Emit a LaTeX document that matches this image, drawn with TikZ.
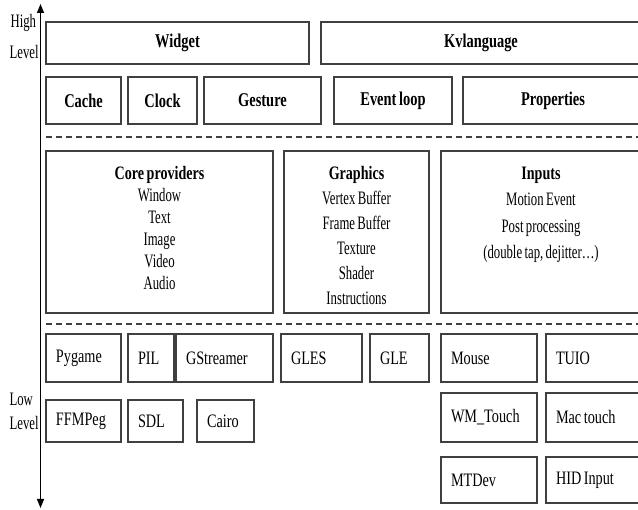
\documentclass[tikz,border=0pt]{standalone}
\usepackage{fontspec}
\setmainfont{Liberation Serif}[FakeStretch=0.67,WordSpace=0.75,BoldFeatures={FakeStretch=0.74}]
\newfontfamily\fontbas{Liberation Serif}[FakeStretch=0.75,WordSpace=0.7]
\usetikzlibrary{arrows.meta}

\begin{document}
\begin{tikzpicture}[x=1pt, y=-1pt, line width=1.2pt,
    font=\fontsize{19}{22}\selectfont,
    boite/.style={draw=black!75, rectangle, inner sep=0pt},
    haut/.style={boite, font=\fontsize{19.5}{22}\selectfont\bfseries},
    bas/.style={boite, text width=#1, align=flush left, inner xsep=10pt,
        font=\fontbas\fontsize{19}{22}\selectfont},
    liste/.style={align=center, anchor=north, inner sep=0pt},
    niveau/.style={inner sep=0pt, anchor=west},
    tirets/.style={line width=1.8pt, black!75, dash pattern=on 6pt off 4pt},
    fleche/.style={line width=1.2pt, {Triangle[width=7pt,length=9pt]}-{Triangle[width=7pt,length=9pt]}}]
    \useasboundingbox (0,0) rectangle (638,510);
    \clip (0,0) rectangle (638,510);

    % Axe des niveaux
    \coordinate (axeh) at (40.5,4);
    \coordinate (axeb) at (40.5,508);
    \draw[fleche] (axeh) -- (axeb);
    \node[niveau] (high) at (10,23) {High};
    \node[niveau] (level1) at (9,52) {Level};
    \node[niveau] (low) at (9,399) {Low};
    \node[niveau] (level2) at (9,423) {Level};

    % Couche haute
    \node[haut, minimum width=263, minimum height=42] (widget) at (177.5,43) {Widget};
    \node[haut, minimum width=320, minimum height=42] (kvlang) at (481,43) {Kvlanguage};
    \node[haut, minimum width=75, minimum height=47] (cache) at (83.5,100.5) {Cache};
    \node[haut, minimum width=69, minimum height=47] (clock) at (162.5,100.5) {Clock};
    \node[haut, minimum width=117, minimum height=47] (gesture) at (262.5,100.5) {Gesture};
    \node[haut, minimum width=118, minimum height=47] (evloop) at (393,100.5) {Event loop};
    \node[haut, minimum width=180, minimum height=47] (props) at (553,100.5) {Properties};

    % Séparations
    \coordinate (sep1g) at (46,137);
    \coordinate (sep1d) at (640,137);
    \coordinate (sep2g) at (46,324);
    \coordinate (sep2d) at (640,324);
    \draw[tirets] (sep1g) -- (sep1d);
    \draw[tirets] (sep2g) -- (sep2d);

    % Couche du milieu
    \node[boite, minimum width=227, minimum height=162] (core) at (159.5,232) {};
    \node[boite, minimum width=145, minimum height=162] (graphics) at (356.5,232) {};
    \node[boite, minimum width=200, minimum height=162] (inputs) at (541,232) {};
    \node[liste] (corelist) at (159.5,166) {\textbf{Core providers}\\Window\\Text\\Image\\Video\\Audio};
    \node[liste, font=\fontsize{19}{25}\selectfont] (graphlist) at (356.5,166) {\textbf{Graphics}\\Vertex Buffer\\Frame Buffer\\Texture\\Shader\\Instructions};
    \node[liste, font=\fontsize{19}{26.5}\selectfont] (inplist) at (541,166) {\textbf{Inputs}\\Motion Event\\Post processing\\(double tap, dejitter\ldots)};

    % Couche basse
    \node[bas=55, minimum height=48] (pygame) at (83.5,358) {Pygame};
    \node[bas=26, minimum height=48] (pil) at (151,358) {PIL};
    \node[bas=77, minimum height=48] (gstream) at (224.5,358) {GStreamer};
    \node[bas=61, minimum height=48] (gles) at (321.5,358) {GLES};
    \node[bas=39, minimum height=48] (gle) at (399.5,358) {GLE};
    \node[bas=76, minimum height=48] (mouse) at (489,358) {Mouse};
    \node[bas=76, minimum height=48] (tuio) at (594,358) {TUIO};
    \node[bas=55, minimum height=42] (ffmpeg) at (83.5,421) {FFMPeg};
    \node[bas=35, minimum height=42] (sdl) at (155.5,421) {SDL};
    \node[bas=37, minimum height=42] (cairo) at (225.5,421) {Cairo};
    \node[bas=76, minimum height=49] (wmtouch) at (489,417.5) {WM\_Touch};
    \node[bas=76, minimum height=49] (mactouch) at (594,417.5) {Mac touch};
    \node[bas=76, minimum height=46] (mtdev) at (489,480) {MTDev};
    \node[bas=76, minimum height=46] (hid) at (594,480) {HID Input};
\end{tikzpicture}
\end{document}
